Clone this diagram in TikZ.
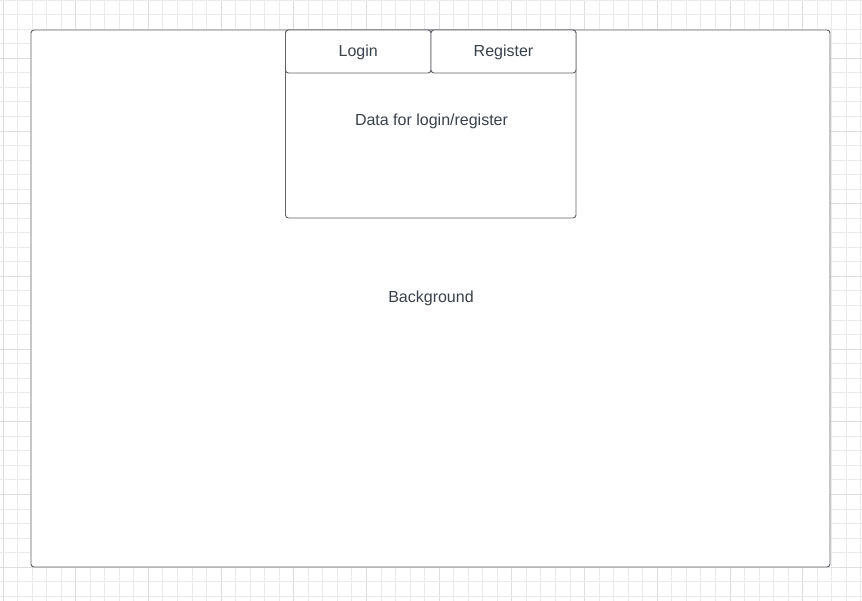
\documentclass[tikz,border=0pt]{standalone}
\usepackage{fontspec}
\setmainfont{Liberation Sans}
\definecolor{gridminor}{RGB}{235,235,235}
\definecolor{gridmajor}{RGB}{222,222,222}
\definecolor{boxline}{RGB}{95,99,104}
\definecolor{txt}{RGB}{58,65,74}
\begin{document}
\begin{tikzpicture}[x=1pt,y=-1pt,
  box/.style={draw=boxline,line width=0.9pt,rounded corners=3pt,fill=white,inner sep=0pt},
  lbl/.style={text=txt,font=\fontsize{16}{19}\selectfont,inner sep=0pt}]
\useasboundingbox (0,0) rectangle (862,601);
\fill[white] (0,0) rectangle (862,601);
% grid
\foreach \k in {0,...,59}{
  \pgfmathsetmacro{\xx}{3+\k*14.54}
  \pgfmathtruncatemacro{\m}{mod(\k,5)}
  \ifnum\m=0
    \draw[gridmajor,line width=1pt] (\xx,0) -- (\xx,601);
  \else
    \draw[gridminor,line width=1pt] (\xx,0) -- (\xx,601);
  \fi
}
\foreach \k in {0,...,41}{
  \pgfmathsetmacro{\yy}{0.15+\k*14.54}
  \pgfmathtruncatemacro{\m}{mod(\k,5)}
  \ifnum\m=4
    \draw[gridmajor,line width=1pt] (0,\yy) -- (862,\yy);
  \else
    \draw[gridminor,line width=1pt] (0,\yy) -- (862,\yy);
  \fi
}
% background box
\node[box,minimum width=799pt,minimum height=537pt] (bg) at (430.5,298.5) {};
\node[lbl] (bgtext) at (431,298.5) {Background};
% data panel
\node[box,minimum width=290.5pt,minimum height=188pt] (panel) at (430.75,124) {};
\node[lbl] (paneltext) at (431.5,121.5) {Data for login/register};
% tabs
\node[box,minimum width=145.5pt,minimum height=43pt] (login) at (358.25,51.5) {};
\node[lbl] (logintext) at ([yshift=-1pt]login.center) {Login};
\node[box,minimum width=145pt,minimum height=43pt] (register) at (503.5,51.5) {};
\node[lbl] (registertext) at ([yshift=-1pt]register.center) {Register};
\end{tikzpicture}
\end{document}
